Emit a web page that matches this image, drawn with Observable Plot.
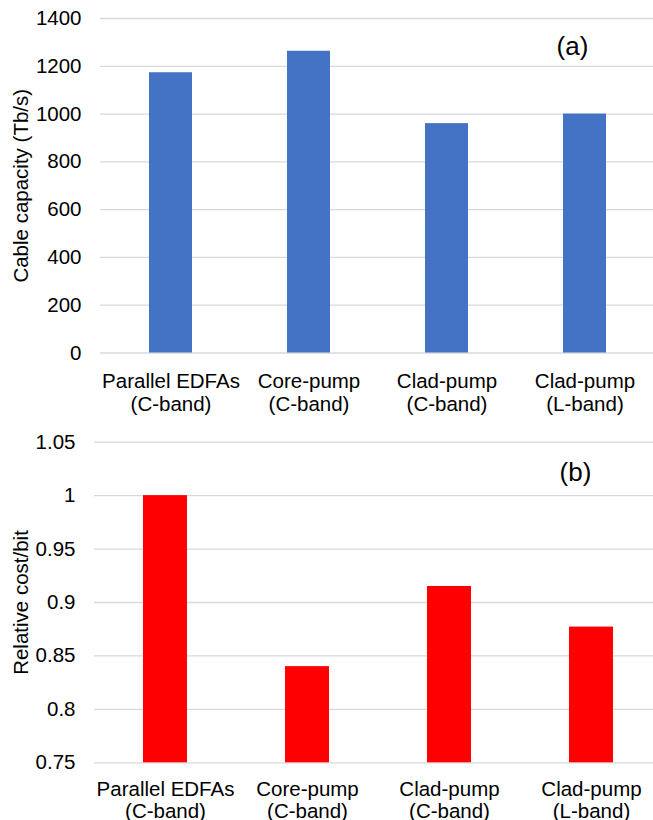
<!DOCTYPE html>
<html>
<head>
<meta charset="utf-8">
<script src="https://cdn.jsdelivr.net/npm/d3@7"></script>
<script src="https://cdn.jsdelivr.net/npm/@observablehq/plot@0.6"></script>
<style>
  html, body { margin: 0; padding: 0; background: #ffffff; }
  #chart svg { display: block; }
</style>
</head>
<body>
<div id="chart"></div>
<script>
// ---- data ----
const labelLine1 = ["Parallel EDFAs", "Core-pump", "Clad-pump", "Clad-pump"];
const labelLine2 = ["(C-band)", "(C-band)", "(C-band)", "(L-band)"];
const capacity = [1173, 1263, 960, 1000];          // Tb/s
const costPerBit = [1.0, 0.84, 0.915, 0.877];      // relative
const capacityTicks = [0, 200, 400, 600, 800, 1000, 1200, 1400];
const costTicks = [0.75, 0.8, 0.85, 0.9, 0.95, 1, 1.05];
const costBase = 0.75;

const categories = labelLine1.map((a, i) => a + "\n" + labelLine2[i]);
const capData = categories.map((c, i) => ({cat: c, value: capacity[i]}));
const costData = categories.map((c, i) => ({cat: c, value: costPerBit[i], base: costBase}));

const FONT = "'Liberation Sans', Arial, Helvetica, sans-serif";
const FS = 20.5;
const GRID = "#d9d9d9";

const chartA = Plot.plot({
  width: 653,
  height: 420,
  marginLeft: 100,
  marginRight: 0,
  marginTop: 18,
  marginBottom: 67.5,
  style: {fontFamily: FONT, fontSize: FS + "px", background: "white", color: "#000"},
  x: {domain: categories, range: [100, 654], paddingInner: 0.69, paddingOuter: 0.345, axis: null},
  y: {domain: [0, 1400]},
  marks: [
    Plot.gridY(capacityTicks, {stroke: GRID, strokeOpacity: 1, strokeWidth: 1.3}),
    Plot.barY(capData, {x: "cat", y: "value", fill: "#4472C4"}),
    Plot.axisY({ticks: capacityTicks, tickSize: 0, tickPadding: 19, label: null, fontSize: FS,
      tickFormat: d => String(d)}),
    Plot.text(capData, {x: "cat", text: "cat", frameAnchor: "bottom", lineAnchor: "top", dy: 19, lineHeight: 1.1, fontSize: FS, fill: "#000"}),
    Plot.text(["Cable capacity (Tb/s)"], {frameAnchor: "left", rotate: -90, dx: -79, textAnchor: "middle", lineAnchor: "middle", fontSize: FS, fill: "#000"}),
    Plot.text(["(a)"], {frameAnchor: "top-right", dx: -81, dy: 28, textAnchor: "middle", lineAnchor: "middle", fontSize: 26, fill: "#000"})
  ]
});

const chartB = Plot.plot({
  width: 653,
  height: 400,
  marginLeft: 94,
  marginRight: 0,
  marginTop: 21.7,
  marginBottom: 57.7,
  style: {fontFamily: FONT, fontSize: FS + "px", background: "white", color: "#000"},
  x: {domain: categories, range: [94, 662], paddingInner: 0.69, paddingOuter: 0.345, axis: null},
  y: {domain: [0.75, 1.05]},
  marks: [
    Plot.gridY(costTicks, {stroke: GRID, strokeOpacity: 1, strokeWidth: 1.3}),
    Plot.barY(costData, {x: "cat", y1: "base", y2: "value", fill: "#FF0000"}),
    Plot.axisY({ticks: costTicks, tickSize: 0, tickPadding: 19, label: null, fontSize: FS,
      tickFormat: d => String(+d.toFixed(2))}),
    Plot.text(costData, {x: "cat", text: "cat", frameAnchor: "bottom", lineAnchor: "top", dy: 17.5, lineHeight: 1.07, fontSize: FS, fill: "#000"}),
    Plot.text(["Relative cost/bit"], {frameAnchor: "left", rotate: -90, dx: -73, textAnchor: "middle", lineAnchor: "middle", fontSize: FS, fill: "#000"}),
    Plot.text(["(b)"], {frameAnchor: "top-right", dx: -78, dy: 30, textAnchor: "middle", lineAnchor: "middle", fontSize: 26, fill: "#000"})
  ]
});

const root = document.getElementById("chart");
root.appendChild(chartA);
root.appendChild(chartB);
</script>
</body>
</html>
